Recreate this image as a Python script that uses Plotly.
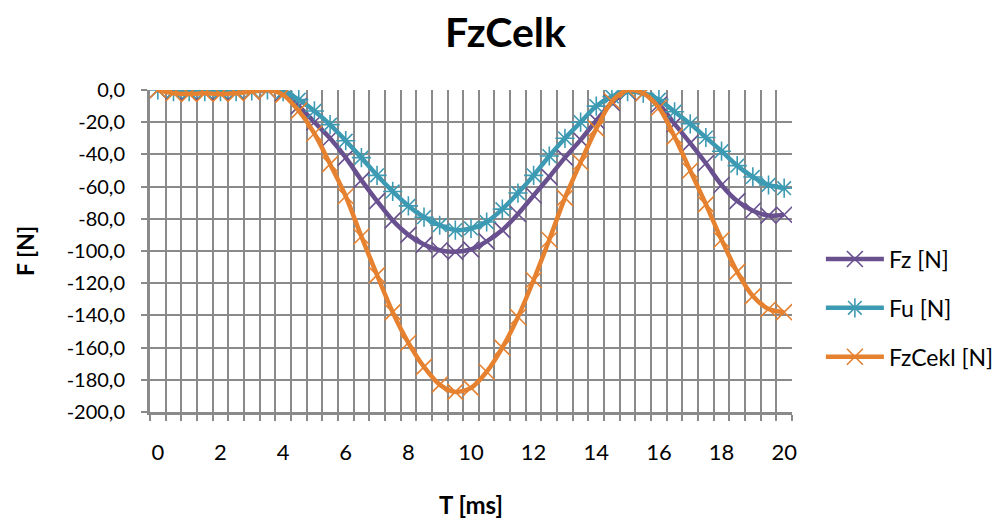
import plotly.graph_objects as go

# Time axis (ms), one category every 0.5 ms
t = [i * 0.5 for i in range(41)]

fz = [0, -1, -1.5, -1, -1.5, -1, -1, 0,
      -2, -10, -20, -30, -42, -56, -69, -81, -90, -96, -99.5, -100.5, -99,
      -94, -87, -77, -65.5, -54, -42, -31, -19, -8, -1,
      -2, -9, -21, -33, -45.5, -59, -69, -75, -78, -77.5]

fu = [0, -1, -1, -1, -1, -1, -0.5, 0,
      -1, -6, -13, -21.5, -31.5, -42, -53, -63, -72, -79, -84, -87, -86,
      -82, -74, -64, -53, -41, -30, -20, -10, -4, -1,
      -2, -6, -13.5, -21, -29.5, -38, -47, -54, -59, -61]

fzcekl = [0, -2, -2.5, -2, -2.5, -2, -1, 0,
          -3, -13, -27, -46, -66, -91, -115, -138, -157, -172, -183, -187.5, -185,
          -175, -160, -141, -118, -93, -67, -45, -24, -7, 0,
          -2, -11, -29, -50, -71, -93, -113, -128, -136, -138]

series_names = ["Fz [N]", "Fu [N]", "FzCekl [N]"]
x_tick_vals = [0, 2, 4, 6, 8, 10, 12, 14, 16, 18, 20]
y_tick_vals = [0, -20, -40, -60, -80, -100, -120, -140, -160, -180, -200]
y_tick_text = ["0,0", "-20,0", "-40,0", "-60,0", "-80,0", "-100,0", "-120,0",
               "-140,0", "-160,0", "-180,0", "-200,0"]

colors = ["#69508F", "#3D9AB3", "#E5812F"]
symbols = ["x-thin-open", "asterisk-open", "x-thin-open"]
FONT = "Lato"
GRID = "#8A8A8A"

W, H = 995, 514  # page body has an 8px margin

fig = go.Figure()
for i, (name, ys) in enumerate(zip(series_names, [fz, fu, fzcekl])):
    fig.add_trace(go.Scatter(
        x=t, y=ys, name=name, mode="lines+markers",
        line=dict(color=colors[i], width=4.5, shape="spline", smoothing=0.8),
        marker=dict(symbol=symbols[i], size=16, color=colors[i],
                    line=dict(color=colors[i], width=1.6)),
        legendgroup=f"g{i}",
    ))

fig.update_layout(
    width=W, height=H,
    paper_bgcolor="white", plot_bgcolor="white",
    margin=dict(l=142, r=211, t=82, b=110, autoexpand=False),
    font=dict(family=FONT, color="black"),
    title=dict(text="<b>FzCelk</b>", x=0.5, xanchor="center",
               y=1 - 25 / H, yanchor="middle", yref="container",
               font=dict(size=41, family=FONT, color="black")),
    legend=dict(x=1.045, xanchor="left", y=0.323, yanchor="middle",
                font=dict(size=23, family=FONT, color="black"),
                tracegroupgap=16, traceorder="grouped", itemwidth=58,
                bgcolor="rgba(0,0,0,0)"),
    showlegend=True,
)

fig.update_xaxes(
    range=[-0.25, 20.25], tickvals=x_tick_vals,
    showgrid=False, zeroline=False,
    showline=True, linecolor=GRID, linewidth=3, mirror=False,
    ticks="", tickfont=dict(size=22, family=FONT, color="black"),
    ticklabelstandoff=19,
    minor=dict(tick0=0.25, dtick=0.5, showgrid=True, gridcolor=GRID,
               gridwidth=2, ticks="outside", ticklen=6, tickcolor=GRID,
               tickwidth=2),
    title=dict(text="<b>T [ms]</b>", font=dict(size=24, family=FONT, color="black"),
               standoff=33),
    automargin=False,
)

fig.update_yaxes(
    range=[-200, 0], tickvals=y_tick_vals, ticktext=y_tick_text,
    showgrid=True, gridcolor=GRID, gridwidth=2, zeroline=False,
    showline=True, linecolor=GRID, linewidth=3,
    ticks="outside", ticklen=6, tickcolor=GRID, tickwidth=2,
    tickfont=dict(size=20, family=FONT, color="black"),
    ticklabelstandoff=12,
    title=dict(text="<b>F [N]</b>", font=dict(size=23, family=FONT, color="black"),
               standoff=26),
    automargin=False,
)

fig.write_html("out.html")
